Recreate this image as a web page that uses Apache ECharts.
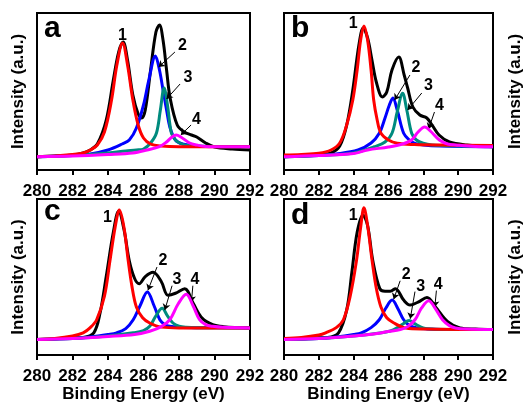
<!DOCTYPE html>
<html>
<head>
<meta charset="utf-8">
<script src="https://cdn.jsdelivr.net/npm/echarts@6/dist/echarts.min.js"></script>
<style>
html, body { margin: 0; padding: 0; background: #fff; }
#chart { width: 525px; height: 404px; }
</style>
</head>
<body>
<div id="chart"></div>
<script>
// C 1s spectra, [binding energy (eV), intensity (a.u.)]
// panel a
const aBlack = [[280,13.3],[281,14],[282,15],[282.6,17],[283,20],[283.4,26],[283.9,50],[284.3,90],[284.6,118],[284.85,128],[285.1,110],[285.4,75],[285.7,56],[285.9,52],[286.1,60],[286.4,100],[286.7,138],[286.9,145],[287.1,130],[287.3,100],[287.5,72],[287.9,45],[288.3,38],[288.7,35],[289,33],[289.5,27],[290,23],[291,21],[292,20]];
const aRed = [[280,13.3],[281,14],[282,15.5],[282.6,17],[283,20],[283.4,25],[283.8,38],[284.2,70],[284.5,105],[284.82,127],[285.1,105],[285.4,70],[285.7,45],[286,32],[286.4,26],[287,24],[288,23.3],[290,23.3],[292,23.3]];
const aBlue = [[280,13.3],[282,14.5],[283,16],[284,20],[284.8,26],[285.2,30],[285.6,42],[286,65],[286.3,90],[286.67,114],[286.9,100],[287.1,80],[287.3,60],[287.5,42],[287.8,30],[288.2,26],[289,24],[290,23.5],[292,23.3]];
const aTeal = [[280,13.3],[282,14.5],[284,17],[285,19],[285.6,20],[286,21],[286.4,27],[286.73,37],[286.95,60],[287.16,82],[287.35,65],[287.57,37],[287.8,30],[288.04,27],[288.5,24.5],[290,23.5],[292,23.3]];
const aMagenta = [[280,13.3],[282,14],[284,15.5],[285.4,17],[286.2,20],[286.9,23.3],[287.3,28],[287.6,33],[287.85,35],[288.1,33],[288.6,27],[289,25],[289.5,23.5],[290,23.3],[292,23.3]];
const aLabels = [
    { t: '1', at: [284.82, 134] },
    { t: '2', at: [288.2, 124], from: [287.77, 118], to: [286.85, 103] },
    { t: '3', at: [288.51, 92.5], from: [288.06, 86], to: [287.3, 71] },
    { t: '4', at: [288.99, 50], from: [288.68, 45], to: [288.1, 35] }
];

// panel b
const bBlack = [[280,13.3],[281,14],[282,15],[282.7,17],[283.2,24],[283.6,45],[283.95,80],[284.3,125],[284.55,142],[284.8,132],[285.05,110],[285.3,88],[285.65,73],[285.9,78],[286.2,100],[286.59,113],[286.9,95],[287.1,82],[287.4,63],[287.8,55],[288.2,52],[288.5,45],[288.9,35],[289.5,28],[290.5,25],[292,23.3]];
const bRed = [[280,15],[281,15.5],[282,16.7],[282.7,20],[283.2,27],[283.6,45],[283.95,70],[284.2,100],[284.4,130],[284.59,144],[284.8,130],[285,100],[285.15,70],[285.35,50],[285.56,37],[286,30],[286.5,26.7],[287.5,25.5],[289,25],[292,24.5]];
const bBlue = [[280,13.3],[282,14.5],[283,16],[284.25,20],[285,27],[285.47,36.7],[285.8,52],[286.05,65],[286.25,72],[286.5,60],[286.87,36.7],[287.2,30],[287.52,26.7],[288,25],[289,24],[292,23.3]];
const bTeal = [[280,13.3],[282,14.5],[284,17],[285.19,23.3],[285.8,28],[286.2,36.7],[286.5,58],[286.81,76.7],[287.05,60],[287.33,36.7],[287.6,30],[287.99,26.7],[288.5,25],[290,24],[292,23.3]];
const bMagenta = [[280,13.3],[282,14.5],[284,16.5],[284.8,20],[286,23],[286.8,26],[287.33,30],[287.7,38],[288.08,43],[288.4,39],[288.92,30],[289.4,26],[289.85,25],[291,23.5],[292,23.3]];
const bLabels = [
    { t: '1', at: [283.98, 146] },
    { t: '2', at: [287.57, 102.5], from: [287.23, 95], to: [286.35, 70] },
    { t: '3', at: [288.3, 84], from: [287.91, 77], to: [287.1, 60] },
    { t: '4', at: [288.92, 64], from: [288.64, 58], to: [288.3, 41] }
];

// panel c
const cBlack = [[280,16],[281,16.5],[282,17.5],[282.6,18],[283.2,22.7],[283.55,42.7],[283.9,80],[284.3,125],[284.6,146.7],[284.9,128],[285.2,96],[285.5,78],[285.76,72.7],[286.1,80],[286.54,84.3],[287,75],[287.38,61],[287.8,63],[288.32,67.7],[288.8,52.7],[289.3,37.7],[289.9,31],[290.5,29],[292,27.7]];
const cRed = [[280,16],[281,17],[282,19.5],[282.6,22.7],[283,28],[283.36,36],[283.8,60],[284.11,96],[284.4,130],[284.64,147.7],[284.9,130],[285.14,96],[285.35,70],[285.6,49],[285.95,38],[286.35,32.7],[287,28.5],[288,27.7],[292,27.7]];
const cBlue = [[280,16],[282,17],[283,18.5],[284,21],[284.49,22.7],[285,27],[285.42,36],[285.8,50],[286.22,64.3],[286.6,50],[286.92,36],[287.2,31],[287.48,29.3],[288,28.3],[289,27.9],[292,27.7]];
const cTeal = [[280,16],[282,17],[284,19.5],[285.42,22.7],[286,25],[286.35,29.3],[286.7,40],[287.05,47.7],[287.35,40],[287.66,32.7],[288,29.5],[288.4,28.3],[289,27.8],[292,27.7]];
const cMagenta = [[280,16],[282,17],[284,19],[285.5,21],[286.35,24.3],[287,29],[287.48,36],[287.95,52],[288.41,62],[288.8,50],[289.16,36],[289.5,31],[289.9,29.3],[290.5,28.3],[292,27.7]];
const cLabels = [
    { t: '1', at: [283.97, 140] },
    { t: '2', at: [287.1, 96.7], from: [286.76, 89.7], to: [286.25, 66] },
    { t: '3', at: [287.89, 76.7], from: [287.61, 70.7], to: [287.2, 46] },
    { t: '4', at: [288.9, 76.7], from: [288.78, 70.7], to: [288.7, 54] }
];

// panel d
const dBlack = [[280,16],[281,16.5],[282,17.7],[282.5,18],[283.13,22.7],[283.6,46],[283.9,85],[284.2,125],[284.53,142.7],[284.8,132],[285.1,96],[285.5,67.7],[285.8,65],[286.1,65],[286.4,67.7],[286.87,56],[287.24,51],[287.7,54],[288.21,58.7],[288.7,49],[289.4,34],[290.1,27.7],[291,26.5],[292,26]];
const dRed = [[280,17],[281,18],[282,20.5],[282.39,22.7],[283,28],[283.41,36],[283.8,60],[284.16,96],[284.4,130],[284.59,150],[284.8,132],[285.06,96],[285.3,68],[285.56,49.3],[285.9,38],[286.31,32.7],[287,27.5],[288,26.5],[292,26]];
const dBlue = [[280,16],[282,17],[283,18.5],[284,21],[284.44,22.7],[285,28],[285.47,36],[285.85,48],[286.21,56],[286.55,47],[286.87,36],[287.2,30],[287.62,27.7],[288.2,26.7],[289,26.2],[292,26]];
const dTeal = [[280,16],[282,17],[284,19.5],[285.5,22.5],[286.1,24.5],[286.49,27.7],[286.85,32],[287.18,35.3],[287.5,32],[287.99,27.7],[288.5,26.5],[289.5,26.1],[292,26]];
const dMagenta = [[280,16],[282,17],[284,19.5],[284.9,21],[286,24],[286.68,26],[287.1,29],[287.52,36],[287.9,48],[288.31,55.3],[288.7,47],[289.1,36],[289.5,30],[289.85,27.7],[290.5,26.6],[292,26]];
const dLabels = [
    { t: '1', at: [283.98, 141.7] },
    { t: '2', at: [287.01, 81.7], from: [286.67, 75.7], to: [286.3, 57] },
    { t: '3', at: [287.85, 70], from: [287.52, 64.7], to: [287.25, 37] },
    { t: '4', at: [288.86, 71.7], from: [288.75, 65.7], to: [288.66, 49] }
];

const FONT = '"Liberation Sans", Arial, Helvetica, sans-serif'
// black envelope first, then fitted peaks
const colors = ['#000000', '#0000ff', '#008b7e', '#ff0000', '#ff00ff']

const panels = [
    { letter: 'a', curves: [aBlack, aBlue, aTeal, aRed, aMagenta], labels: aLabels, grid: { left: 37, top: 13, width: 213, height: 157 }, yMax: 157, side: 'left', letterPos: [44, 29] },
    { letter: 'b', curves: [bBlack, bBlue, bTeal, bRed, bMagenta], labels: bLabels, grid: { left: 284, top: 13, width: 214, height: 157 }, yMax: 157, side: 'right', letterPos: [291, 29] },
    { letter: 'c', curves: [cBlack, cBlue, cTeal, cRed, cMagenta], labels: cLabels, grid: { left: 37, top: 199, width: 213, height: 159 }, yMax: 159, side: 'left', letterPos: [44, 212] },
    { letter: 'd', curves: [dBlack, dBlue, dTeal, dRed, dMagenta], labels: dLabels, grid: { left: 284, top: 199, width: 214, height: 159 }, yMax: 159, side: 'right', letterPos: [291, 216] }
]

const boldText = (size) => ({ color: '#000', fontFamily: FONT, fontWeight: 'bold', fontSize: size })

const series = []
panels.forEach((p, i) => {
    p.curves.forEach((data, k) => {
        const s = {
            type: 'line',
            xAxisIndex: i,
            yAxisIndex: i,
            data: data,
            smooth: 0.35,
            symbol: 'none',
            lineStyle: { color: colors[k], width: 3 },
            z: 2 + k,
            silent: true
        }
        if (k === 0) {
            // arrows and peak numbers
            s.markLine = {
                silent: true,
                symbol: ['none', 'arrow'],
                symbolSize: 6,
                label: { show: false },
                lineStyle: { color: '#000', width: 1, type: 'solid' },
                data: p.labels.filter(l => l.from).map(l => [{ coord: l.from }, { coord: l.to }])
            }
            s.markPoint = {
                silent: true,
                symbol: 'circle',
                symbolSize: 0,
                label: Object.assign({ show: true, position: 'inside', formatter: '{b}' }, boldText(16)),
                data: p.labels.map(l => ({ name: l.t, coord: l.at }))
            }
        }
        series.push(s)
    })
})

const chart = echarts.init(document.getElementById('chart'))
chart.setOption({
    animation: false,
    backgroundColor: '#fff',
    grid: panels.map(p => Object.assign({ show: true, borderColor: '#000', borderWidth: 2, containLabel: false }, p.grid)),
    xAxis: panels.map((p, i) => ({
        type: 'value',
        gridIndex: i,
        min: 280,
        max: 292,
        interval: 2,
        axisLine: { show: true, lineStyle: { color: '#000', width: 2 } },
        axisTick: { show: true, inside: false, length: 5, lineStyle: { color: '#000', width: 2 } },
        axisLabel: Object.assign({ margin: 13 }, boldText(17)),
        splitLine: { show: false },
        name: i >= 2 ? 'Binding Energy (eV)' : '',
        nameLocation: 'middle',
        nameGap: 29,
        nameTextStyle: boldText(17)
    })),
    yAxis: panels.map((p, i) => ({
        type: 'value',
        gridIndex: i,
        min: 0,
        max: p.yMax,
        position: p.side,
        axisLine: { show: false },
        axisTick: { show: false },
        axisLabel: { show: false },
        splitLine: { show: false },
        name: 'Intensity (a.u.)',
        nameLocation: 'middle',
        nameRotate: 90,
        nameGap: p.side === 'left' ? 10 : 14,
        nameTextStyle: boldText(17)
    })),
    graphic: panels.map(p => ({
        type: 'text',
        x: p.letterPos[0],
        y: p.letterPos[1],
        z: 100,
        style: { text: p.letter, font: 'bold 30px ' + FONT, fill: '#000', verticalAlign: 'middle' }
    })),
    series: series
})
</script>
</body>
</html>
